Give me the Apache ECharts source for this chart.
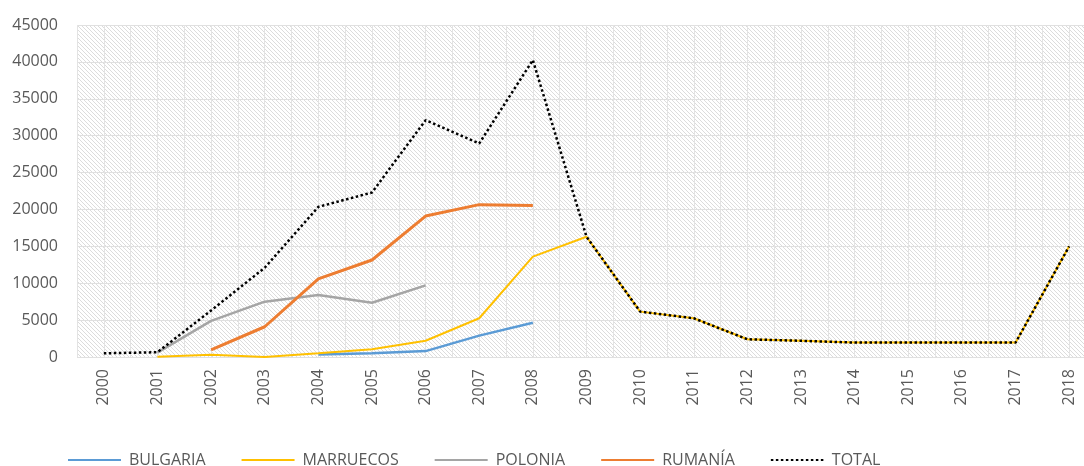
<!DOCTYPE html>
<html>
<head>
<meta charset="utf-8">
<script src="https://cdn.jsdelivr.net/npm/echarts@6/dist/echarts.min.js"></script>
<style>
html,body{margin:0;padding:0;background:#fff;}
#chart{width:1084px;height:466px;}
</style>
</head>
<body>
<div id="chart"></div>
<script>
const years = ['2000','2001','2002','2003','2004','2005','2006','2007','2008','2009','2010','2011','2012','2013','2014','2015','2016','2017','2018'];
const bulgaria  = [null, null, null, null, 350, 500, 800, 2900, 4650, null, null, null, null, null, null, null, null, null, null];
const marruecos = [null, 50, 300, 0, 500, 1050, 2200, 5250, 13600, 16300, 6150, 5250, 2400, 2200, 1950, 1950, 1950, 1950, 15000];
const polonia   = [null, 600, 4900, 7500, 8400, 7350, 9700, null, null, null, null, null, null, null, null, null, null, null, null];
const rumania   = [null, null, 950, 4100, 10600, 13150, 19100, 20650, 20550, null, null, null, null, null, null, null, null, null, null];
const total     = [500, 650, 6300, 12100, 20350, 22300, 32100, 28950, 40250, 16300, 6150, 5250, 2400, 2200, 1950, 1950, 1950, 1950, 15000];
const yTicks = { min: 0, max: 45000, interval: 5000 };

const pc = document.createElement('canvas');
pc.width = 4; pc.height = 4;
const ctx = pc.getContext('2d');
ctx.fillStyle = '#ffffff';
ctx.fillRect(0,0,4,4);
ctx.strokeStyle = '#dcdcdc';
ctx.lineWidth = 1;
ctx.beginPath();
ctx.moveTo(-1,-1); ctx.lineTo(5,5);
ctx.moveTo(-1,3); ctx.lineTo(1,5);
ctx.moveTo(3,-1); ctx.lineTo(5,1);
ctx.stroke();

const chart = echarts.init(document.getElementById('chart'), null, {renderer:'canvas'});
const font = '"Open Sans", sans-serif';
function line(name, data, color, width, dash) {
  return {
    name, type:'line', data, symbol:'none', connectNulls:false,
    lineStyle:{color, width, type: dash || 'solid', cap:'butt'},
    itemStyle:{color},
    emphasis:{disabled:true},
    animation:false
  };
}
chart.setOption({
  animation:false,
  grid:{left:77, top:25, width:1019, height:332, show:true, borderWidth:0,
        outerBoundsMode:'none', containLabel:false,
        backgroundColor:{image:pc, repeat:'repeat'}},
  legend:{
    left:62, top:447, itemWidth:53, itemHeight:14, itemGap:35,
    itemStyle:{opacity:0},
    textStyle:{fontFamily:font, fontSize:16, color:'#595959', padding:[0,0,0,3]},
    data:['BULGARIA','MARRUECOS','POLONIA','RUMANÍA','TOTAL']
  },
  xAxis:[{
    type:'category', data:years, boundaryGap:true,
    axisLine:{show:false}, axisTick:{show:false},
    splitLine:{show:false},
    axisLabel:{rotate:90, margin:12, fontFamily:font, fontSize:16, color:'#595959', interval:0}
  },{
    type:'value', min:0, max:19, interval:0.5, show:true,
    axisLine:{show:false}, axisTick:{show:false}, axisLabel:{show:false},
    splitLine:{show:true, lineStyle:{color:'#e3e3e3', width:1}}
  }],
  yAxis:{
    type:'value', min:yTicks.min, max:yTicks.max, interval:yTicks.interval,
    axisLine:{show:false}, axisTick:{show:false},
    splitLine:{show:true, lineStyle:{color:'#e0e0e0', width:1}},
    axisLabel:{margin:19, fontFamily:font, fontSize:16, color:'#595959', formatter: v => String(v)}
  },
  series:[
    line('BULGARIA', bulgaria, '#5B9BD5', 2.5),
    line('MARRUECOS', marruecos, '#FFC000', 2),
    line('POLONIA', polonia, '#A5A5A5', 2.5),
    line('RUMANÍA', rumania, '#ED7D31', 3),
    line('TOTAL', total, '#000000', 2.5, [2.5, 2.5])
  ]
});
</script>
</body>
</html>
